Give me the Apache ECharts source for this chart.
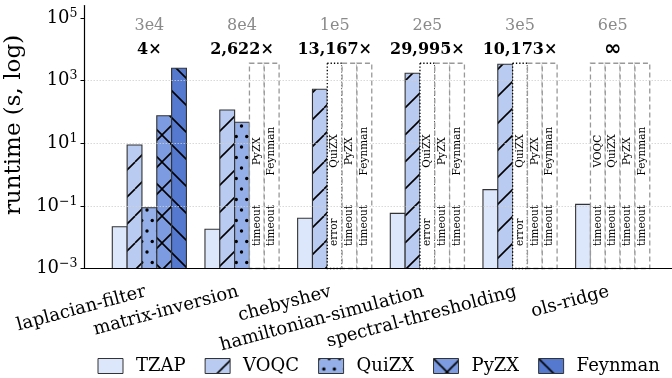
<!DOCTYPE html>
<html><head><meta charset="utf-8">
<script src="https://cdn.jsdelivr.net/npm/echarts@6/dist/echarts.min.js"></script>
<style>html,body{margin:0;padding:0;background:#fff}#c{width:672px;height:378px}</style>
</head><body><div id="c"></div><script>
// ---- data ----
const categories = ['laplacian-filter','matrix-inversion','chebyshev','hamiltonian-simulation','spectral-thresholding','ols-ridge'];
const tools = ['TZAP','VOQC','QuiZX','PyZX','Feynman'];
const sizeLabels = ['3e4','8e4','1e5','2e5','3e5','6e5'];
const speedupLabels = ['4×','2,622×','13,167×','29,995×','10,173×','∞'];
const tzap    = [0.0216, 0.0179, 0.0402, 0.0575, 0.330, 0.112];
const voqc    = [8.8, 116, 531, 1725, 3357, null];
const quizx   = [0.0875, 46.8, null, null, null, null];
const pyzx    = [76, null, null, null, null, null];
const feynman = [2490, null, null, null, null, null];
const tzapStatus    = ['ok','ok','ok','ok','ok','ok'];
const voqcStatus    = ['ok','ok','ok','ok','ok','timeout'];
const quizxStatus   = ['ok','ok','error','error','error','timeout'];
const pyzxStatus    = ['ok','timeout','timeout','timeout','timeout','timeout'];
const feynmanStatus = ['ok','timeout','timeout','timeout','timeout','timeout'];
const TIMEOUT = 3600;
const yTickExponents = [-3,-1,1,3,5];

// ---- styling ----
const FONT = 'DejaVu Serif';
const LOG_MIN = -3;
const toY = v => Math.log10(v) - LOG_MIN;
const BAR_W = 0.16;
const colors = ['#dde7fb','#b9cbf0','#95b0e8','#7c9be0','#5479cf'];
const hatches = ['', '/', '.', 'x', '\\'];
const values = [tzap, voqc, quizx, pyzx, feynman];
const statuses = [tzapStatus, voqcStatus, quizxStatus, pyzxStatus, feynmanStatus];
const EDGE = '#333';

function makePattern(bg, kind) {
  if (!kind) return bg;
  const S = kind === '.' ? 21 : 27;
  const c = document.createElement('canvas'); c.width = S; c.height = S;
  const g = c.getContext('2d');
  g.fillStyle = bg; g.fillRect(0,0,S,S);
  g.strokeStyle = '#000'; g.fillStyle = '#000'; g.lineWidth = 1.6;
  if (kind === '/' || kind === 'x') for (const o of [-S,0,S]) { g.beginPath(); g.moveTo(o,S); g.lineTo(o+S,0); g.stroke(); }
  if (kind === '\\' || kind === 'x') for (const o of [-S,0,S]) { g.beginPath(); g.moveTo(o,0); g.lineTo(o+S,S); g.stroke(); }
  if (kind === '.') {
    const h = S/2;
    const pts = [[0,0],[h,0],[S,0],[0,S],[h,S],[S,S],[h/2,h],[h*1.5,h]];
    for (const [x,y] of pts) { g.beginPath(); g.arc(x,y,1.7,0,Math.PI*2); g.fill(); }
  }
  return {image: c, repeat: 'repeat'};
}
const fills = colors.map((c,k) => makePattern(c, hatches[k]));

const barSeries = tools.map((t,k) => ({
  type: 'custom', name: t, coordinateSystem: 'cartesian2d', z: 3,
  itemStyle: {color: fills[k], borderColor: EDGE, borderWidth: 1},
  data: values[k].map((v,i) => v == null ? null : [i, toY(v)]).filter(d => d),
  renderItem: (params, api) => {
    const cx = api.value(0) + (k-2)*BAR_W;
    const p0 = api.coord([cx - BAR_W/2, api.value(1)]);
    const p1 = api.coord([cx + BAR_W/2, 0]);
    return {type:'rect', shape:{x:p0[0], y:p0[1], width:p1[0]-p0[0], height:p1[1]-p0[1]},
      style:{fill: fills[k], stroke: EDGE, lineWidth: 1.1}};
  }
}));

function failureSeries(kind) {
  const data = [];
  statuses.forEach((st,k) => st.forEach((s,i) => { if (s === kind) data.push([i,k]); }));
  return {
    type: 'custom', name: 'fail-' + kind, coordinateSystem: 'cartesian2d', z: 4,
    data,
    renderItem: (params, api) => {
      const i = api.value(0), k = api.value(1);
      const cx = i + (k-2)*BAR_W;
      const p0 = api.coord([cx - BAR_W/2, toY(TIMEOUT)]);
      const p1 = api.coord([cx + BAR_W/2, 0]);
      const mx = (p0[0]+p1[0])/2;
      const yb = api.coord([cx, 0.72])[1];
      const yn = api.coord([cx, 3.75])[1];
      const isErr = kind === 'error';
      return {type:'group', children:[
        {type:'rect', shape:{x:p0[0], y:p0[1], width:p1[0]-p0[0], height:p1[1]-p0[1]},
          style:{fill:'#fff', stroke: isErr ? '#000' : '#999', lineWidth: 1.3, lineDash: isErr ? [1.3,2] : [5,3]}},
        {type:'text', x: mx, y: yb, rotation: Math.PI/2,
          style:{text: isErr ? 'error' : 'timeout', fill:'#000', font: '10.5px "' + FONT + '"', align:'left', verticalAlign:'middle'}},
        {type:'text', x: mx, y: yn, rotation: Math.PI/2,
          style:{text: tools[k], fill:'#000', font: '10.5px "' + FONT + '"', align:'center', verticalAlign:'middle'}}
      ]};
    }
  };
}

const annotSeries = {
  type: 'custom', name: 'annot', coordinateSystem: 'cartesian2d', z: 5,
  data: categories.map((c,i) => [i]),
  renderItem: (params, api) => {
    const i = api.value(0);
    const a = api.coord([i, 7.745]);
    const b = api.coord([i, 6.98]);
    const lab = speedupLabels[i];
    const bfont = lab === '∞' ? 'bold 21px "DejaVu Sans"' : 'bold 16px "' + FONT + '"';
    return {type:'group', children:[
      {type:'text', x:a[0], y:a[1], style:{text: sizeLabels[i], fill:'#8a8a8a', font:'16px "' + FONT + '"', align:'center', verticalAlign:'middle'}},
      {type:'text', x:b[0], y:b[1], style:{text: lab, fill:'#000', font: bfont, align:'center', verticalAlign:'middle'}}
    ]};
  }
};

const chart = echarts.init(document.getElementById('c'), null, {renderer:'canvas'});
chart.setOption({
  animation: false,
  backgroundColor: '#fff',
  grid: {left: 84.5, right: 0, top: 5.5, bottom: 109.5, containLabel: false, outerBoundsMode: 'none'},
  xAxis: {
    type: 'value', min: -0.7, max: 5.64, interval: 1, z: 10,
    axisLine: {show: true, onZero: false, lineStyle: {color:'#000', width: 1.2}},
    axisTick: {show: false},
    splitLine: {show: false},
    axisLabel: {
      customValues: [0,1,2,3,4,5],
      formatter: v => categories[Math.round(v)] || '',
      rotate: 15, margin: 22, padding: [0,4,0,0], fontFamily: FONT, fontSize: 18, color: '#000'
    }
  },
  yAxis: {
    type: 'value', min: 0, max: 8.4, interval: 2, z: 10,
    name: 'runtime (s, log)', nameLocation: 'middle', nameGap: 51, nameRotate: 90,
    nameTextStyle: {fontFamily: FONT, fontSize: 23, color: '#000', padding: [0,0,0,24]},
    axisLine: {show: true, onZero: false, lineStyle: {color:'#000', width: 1.2}},
    axisTick: {show: true, length: 4, customValues: yTickExponents.map(e => e - LOG_MIN), lineStyle: {color:'#000', width: 1}},
    splitLine: {show: true, showMaxLine: false, showMinLine: false, lineStyle: {color:'#cfcfcf', type: [1.5,1.5], width: 0.8}},
    axisLabel: {
      customValues: yTickExponents.map(e => e - LOG_MIN),
      margin: 7,
      formatter: v => { const e = Math.round(v) + LOG_MIN; return '{b|10}{s|' + (e < 0 ? '−' : '') + Math.abs(e) + '}'; },
      rich: {
        b: {fontFamily: FONT, fontSize: 18, color: '#000', lineHeight: 22},
        s: {fontFamily: FONT, fontSize: 12.5, color: '#000', lineHeight: 14, verticalAlign: 'top'}
      }
    }
  },
  legend: {
    left: 97.5, top: 357, width: 600, padding: 0, itemWidth: 25, itemHeight: 15, itemGap: 19, icon: 'rect',
    textStyle: {fontFamily: FONT, fontSize: 18, color: '#000', padding: [0,0,0,8]},
    data: tools.map((t,k) => ({name: t, icon: 'rect', itemStyle: {color: fills[k], borderColor: EDGE, borderWidth: 1}}))
  },
  series: [...barSeries, failureSeries('error'), failureSeries('timeout'), annotSeries]
});
</script></body></html>
